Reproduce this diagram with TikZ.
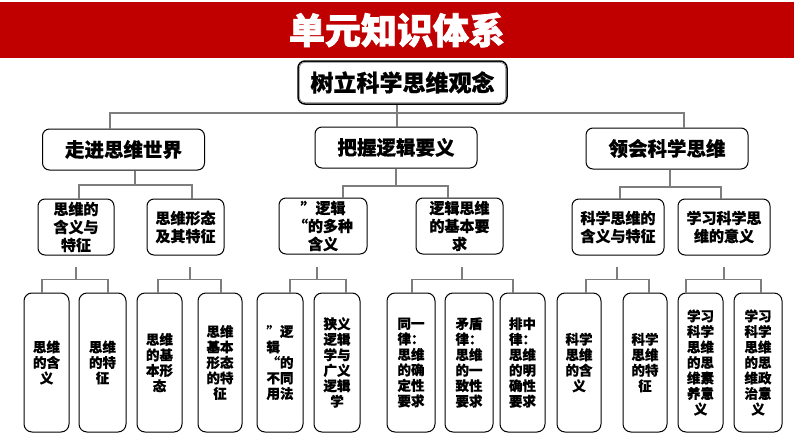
\documentclass[tikz,border=0pt]{standalone}
\usepackage{fontspec}
\setmainfont{Noto Sans CJK SC}[BoldFeatures={FakeBold=0.6}]
\newfontfamily\heavyfont{Noto Sans CJK SC}[UprightFont={*}, BoldFeatures={FakeBold=2}]
\usetikzlibrary{calc}
\definecolor{titlered}{RGB}{192,0,0}
\definecolor{conngray}{RGB}{125,125,125}
\tikzset{
  box/.style={draw=black, line width=1pt, rounded corners=7pt, fill=white, inner sep=0pt, align=center},
  rootbox/.style={box, line width=1.5pt, minimum width=209pt, minimum height=43pt, font=\fontsize{23}{26}\selectfont\bfseries},
  lone/.style={box, minimum width=162pt, minimum height=41pt, font=\fontsize{19.5}{22}\selectfont\bfseries},
  ltwo/.style={box, minimum height=56pt, font=\fontsize{15}{18}\selectfont\bfseries},
  lthree/.style={box, rounded corners=8pt, minimum height=139pt, font=\fontsize{13.5}{15.5}\selectfont\bfseries},
  conn/.style={draw=conngray, line width=1.5pt}
}
\begin{document}
\begin{tikzpicture}[x=1pt, y=-1pt]
\useasboundingbox (0,0) rectangle (794,447);
\fill[white] (0,0) rectangle (794,447);
% title band
\fill[titlered] (0,2) rectangle (794,58);
\node[text=white, font=\heavyfont\fontsize{36}{40}\selectfont\bfseries] (title) at (397,30) {单元知识体系};
% root
\node[rootbox] (root) at (402.5,82.5) {树立科学思维观念};
\draw[gray, line width=0.6pt, rounded corners=5.5pt] ($(root.south west)+(2,-2)$) rectangle ($(root.north east)+(-2,2)$);
% level one
\node[lone] (A) at (123.5,149.5) {走进思维世界};
\node[lone] (B) at (396,147.5) {把握逻辑要义};
\node[lone] (C) at (667,148.5) {领会科学思维};
% level two
\node[ltwo, minimum width=76pt] (A1) at (76,227) {思维的\\含义与\\特征};
\node[ltwo, minimum width=77pt] (A2) at (185.5,227) {思维形态\\及其特征};
\node[ltwo, minimum width=88pt] (B1) at (323,226) {”逻辑\\“的多种\\含义};
\node[ltwo, minimum width=87pt] (B2) at (459.5,226) {逻辑思维\\的基本要\\求};
\node[ltwo, minimum width=92pt] (C1) at (618,227) {科学思维的\\含义与特征};
\node[ltwo, minimum width=92pt] (C2) at (724,227) {学习科学思\\维的意义};
% level three
\node[lthree, minimum width=45pt] (a) at (46.5,362.5) {思维\\的含\\义};
\node[lthree, minimum width=47pt] (b) at (102.5,362.5) {思维\\的特\\征};
\node[lthree, minimum width=45pt] (c) at (159.5,362.5) {思维\\的基\\本形\\态};
\node[lthree, minimum width=44pt] (d) at (220,362.5) {思维\\基本\\形态\\的特\\征};
\node[lthree, minimum width=46pt] (e) at (280,362.5) {”逻\\辑\hphantom{辑}\\“的\\不同\\用法};
\node[lthree, minimum width=46pt] (f) at (337,362.5) {狭义\\逻辑\\学与\\广义\\逻辑\\学};
\node[lthree, minimum width=48pt] (g) at (411,362.5) {同一\\律：\\思维\\的确\\定性\\要求};
\node[lthree, minimum width=48pt] (h) at (469,362.5) {矛盾\\律：\\思维\\的一\\致性\\要求};
\node[lthree, minimum width=45pt] (i) at (522.5,362.5) {排中\\律：\\思维\\的明\\确性\\要求};
\node[lthree, minimum width=44pt] (j) at (579,362.5) {科学\\思维\\的含\\义};
\node[lthree, minimum width=44pt] (k) at (645,362.5) {科学\\思维\\的特\\征};
\node[lthree, minimum width=45pt] (l) at (700.5,362.5) {学习\\科学\\思维\\的思\\维素\\养意\\义};
\node[lthree, minimum width=48pt] (m) at (758,362.5) {学习\\科学\\思维\\的思\\维政\\治意\\义};
% connectors: root to level one
\coordinate (tl) at (110,113);
\coordinate (tm) at (397,113);
\coordinate (tr) at (684,113);
\draw[conn] (tm |- root.south) -- (tm |- B.north);
\draw[conn] (tl |- A.north) -- (tl) -- (tr) -- (tr |- C.north);
% level one to level two
\coordinate (pA) at (135,185);  \coordinate (lA) at (79,185);  \coordinate (rA) at (192,185);
\coordinate (pB) at (396,186);  \coordinate (lB) at (343,186); \coordinate (rB) at (448,186);
\coordinate (pC) at (670,187);  \coordinate (lC) at (620,187); \coordinate (rC) at (721,187);
\draw[conn] (pA |- A.south) -- (pA);
\draw[conn] (lA |- A1.north) -- (lA) -- (rA) -- (rA |- A2.north);
\draw[conn] (pB |- B.south) -- (pB);
\draw[conn] (lB |- B1.north) -- (lB) -- (rB) -- (rB |- B2.north);
\draw[conn] (pC |- C.south) -- (pC);
\draw[conn] (lC |- C1.north) -- (lC) -- (rC) -- (rC |- C2.north);
% level two to level three
\foreach \s/\px/\lx/\rx/\ln/\rn in {A1/76/42/108/a/b, A2/190/158/221/c/d, B1/317/290/346/e/f, B2/462/412/513/g/i, C1/617/586/649/j/k, C2/724/686/761/l/m}{
  \coordinate (s\s) at (\px,267);
  \coordinate (q\s) at (\px,279.5);
  \coordinate (ql\s) at (\lx,279.5);
  \coordinate (qr\s) at (\rx,279.5);
  \draw[conn] (s\s) -- (q\s);
  \draw[conn] (ql\s |- \ln.north) -- (ql\s) -- (qr\s) -- (qr\s |- \rn.north);
}
\end{tikzpicture}
\end{document}
